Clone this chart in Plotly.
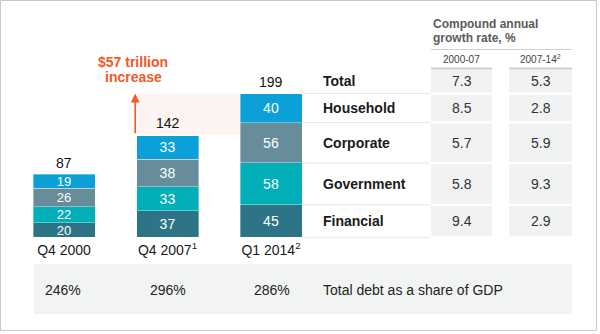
import plotly.graph_objects as go

# ---------------- data ----------------
categories = ["Q4 2000", "Q4 2007", "Q1 2014"]
category_labels = ["Q4 2000", "Q4 2007<sup>1</sup>", "Q1 2014<sup>2</sup>"]
financial = [20, 37, 45]
government = [22, 33, 58]
corporate = [26, 38, 56]
household = [19, 33, 40]
totals = [87, 142, 199]
gdp_share = [246, 296, 286]
increase_label = ["$57 trillion", "increase"]
table_rows = ["Total", "Household", "Corporate", "Government", "Financial"]
cagr_2000_07 = [7.3, 8.5, 5.7, 5.8, 9.4]
cagr_2007_14 = [5.3, 2.8, 5.9, 9.3, 2.9]
col_headers = ["2000-07", "2007-14<sup>2</sup>"]
table_title = ["Compound annual", "growth rate, %"]
gdp_label = "Total debt as a share of GDP"

# ---------------- layout constants ----------------
W, H = 600, 334
BASE_PX = 237.3          # pixel row of value 0
PX_PER_UNIT = 0.722
YMIN = -(H - BASE_PX) / PX_PER_UNIT
YMAX = BASE_PX / PX_PER_UNIT
FIRST_CENTER = 64.0
SPACING = 103.5
BAR_W_PX = 62.0
XMIN = -FIRST_CENTER / SPACING
XMAX = XMIN + W / SPACING
BAR_W = BAR_W_PX / SPACING

FONT = "Liberation Sans, Arial, sans-serif"
ORANGE = "#f15a29"
C_FIN, C_GOV, C_CORP, C_HH = "#2d7487", "#00afb8", "#678d9b", "#0ba0d8"


def px(x):
    return x / W


def py(y):
    return 1 - y / H


fig = go.Figure()

series = [("Financial", financial, C_FIN), ("Government", government, C_GOV),
          ("Corporate", corporate, C_CORP), ("Household", household, C_HH)]
for name, vals, col in series:
    fig.add_trace(go.Bar(
        x=categories, y=vals, name=name, width=BAR_W,
        marker=dict(color=col, line=dict(color="rgba(255,255,255,0.6)", width=0.6)),
        text=vals, textposition="inside", insidetextanchor="middle",
        textangle=0, constraintext="none",
        textfont=dict(color="white", size=[13, 14, 14], family=FONT),
        hoverinfo="skip",
    ))

shapes = []
annotations = []

# light shaded increase area between bar 2 top and bar 3 top
shapes.append(dict(type="rect", xref="x", yref="y",
                   x0=1 - BAR_W / 2, x1=2 - BAR_W / 2, y0=totals[1], y1=totals[2],
                   fillcolor="#fdf3f0", line=dict(width=0), layer="below"))

# arrow
arrow_x = 1 - BAR_W / 2 - 1.3 / SPACING
annotations.append(dict(x=arrow_x, y=totals[2], ax=arrow_x, ay=totals[1],
                        xref="x", yref="y", axref="x", ayref="y", text="",
                        showarrow=True, arrowhead=2, arrowsize=1.1, arrowwidth=1.6,
                        arrowcolor=ORANGE))
for line_txt, yy in zip(increase_label, (61.5, 76.5)):
    annotations.append(dict(x=px(133), y=py(yy), xref="paper", yref="paper",
                            xanchor="center", yanchor="middle",
                            text="<b>%s</b>" % line_txt, showarrow=False,
                            font=dict(family=FONT, size=14, color=ORANGE)))

# totals above bars
for c, t in zip(categories, totals):
    annotations.append(dict(x=c, y=t, xref="x", yref="y", text=str(t),
                            showarrow=False, xanchor="center", yanchor="middle",
                            yshift=11.5,
                            font=dict(family=FONT, size=14, color="#111")))

# ---------------- table ----------------
last = [financial[2], government[2], corporate[2], household[2]]
cum = [0]
for v in last:
    cum.append(cum[-1] + v)
total_top = (BASE_PX - 68.5) / PX_PER_UNIT
spans = [(cum[4], total_top), (cum[3], cum[4]), (cum[2], cum[3]),
         (cum[1], cum[2]), (cum[0], cum[1])]

col_x = [(431, 492), (509, 572)]
gap = 1.0 / PX_PER_UNIT
for (lo, hi) in spans:
    for (x0, x1) in col_x:
        shapes.append(dict(type="rect", xref="paper", yref="y",
                           x0=px(x0), x1=px(x1), y0=lo + gap, y1=hi - gap,
                           fillcolor="#f1f2f2", line=dict(width=0), layer="below"))
# separator lines in label area
for v in cum:
    shapes.append(dict(type="line", xref="paper", yref="y",
                       x0=px(302), x1=px(430), y0=v, y1=v,
                       line=dict(color="#e6e6e6", width=1), layer="below"))
# gray tops of the value columns
for (x0, x1) in col_x:
    shapes.append(dict(type="rect", xref="paper", yref="paper",
                       x0=px(x0), x1=px(x1), y0=py(69.5), y1=py(67.5),
                       fillcolor="#cfcfcf", line=dict(width=0), layer="below"))
# header rule
shapes.append(dict(type="line", xref="paper", yref="paper",
                   x0=px(431), x1=px(572), y0=py(49.5), y1=py(49.5),
                   line=dict(color="#d0d0d0", width=1), layer="below"))

for label, a, b, (lo, hi) in zip(table_rows, cagr_2000_07, cagr_2007_14, spans):
    ym = (lo + hi) / 2
    annotations.append(dict(x=px(321), y=ym, xref="paper", yref="y",
                            xanchor="left", yanchor="middle",
                            text="<b>%s</b>" % label, showarrow=False,
                            font=dict(family=FONT, size=14, color="#1a1a1a")))
    for val, (x0, x1) in zip((a, b), col_x):
        annotations.append(dict(x=px((x0 + x1) / 2), y=ym, xref="paper", yref="y",
                                xanchor="center", yanchor="middle",
                                text="%.1f" % val, showarrow=False,
                                font=dict(family=FONT, size=14, color="#333")))

for line_txt, yy in zip(table_title, (24, 38)):
    annotations.append(dict(x=px(431), y=py(yy), xref="paper", yref="paper",
                            xanchor="left", yanchor="middle",
                            text="<b>%s</b>" % line_txt, showarrow=False,
                            font=dict(family=FONT, size=12, color="#5a5a5a")))
for h, (x0, x1) in zip(col_headers, col_x):
    annotations.append(dict(x=px((x0 + x1) / 2), y=py(59), xref="paper", yref="paper",
                            xanchor="center", yanchor="middle",
                            text=h, showarrow=False,
                            font=dict(family=FONT, size=10, color="#444")))

# ---------------- bottom GDP band ----------------
shapes.append(dict(type="rect", xref="paper", yref="paper",
                   x0=px(34), x1=px(572), y0=py(314), y1=py(264),
                   fillcolor="#f2f3f3", line=dict(width=0), layer="below"))
for g, xl in zip(gdp_share, [42.5, 147.5, 252]):
    annotations.append(dict(x=px(xl), y=py(290), xref="paper", yref="paper",
                            xanchor="left", yanchor="middle",
                            text="%d%%" % g, showarrow=False,
                            font=dict(family=FONT, size=14, color="#222")))
annotations.append(dict(x=px(321), y=py(290), xref="paper", yref="paper",
                        xanchor="left", yanchor="middle", text=gdp_label,
                        showarrow=False,
                        font=dict(family=FONT, size=14, color="#222")))

# outer frame
shapes.append(dict(type="rect", xref="paper", yref="paper",
                   x0=px(0.5), x1=px(596.5), y0=py(330.5), y1=py(0.5),
                   line=dict(color="#c8c8c8", width=1), fillcolor="rgba(0,0,0,0)"))

fig.update_layout(
    width=W, height=H, margin=dict(l=0, r=0, t=0, b=0),
    paper_bgcolor="white", plot_bgcolor="rgba(0,0,0,0)",
    barmode="stack", showlegend=False,
    font=dict(family=FONT, color="#222"),
    xaxis=dict(type="category", range=[XMIN, XMAX], domain=[0, 1],
               anchor="free", position=1 - BASE_PX / H,
               tickvals=categories, ticktext=category_labels,
               tickfont=dict(family=FONT, size=14, color="#1a1a1a"),
               ticklabelstandoff=3,
               showgrid=False, zeroline=False, showline=False, ticks="",
               fixedrange=True),
    yaxis=dict(range=[YMIN, YMAX], domain=[0, 1], visible=False, fixedrange=True),
    shapes=shapes, annotations=annotations,
)

fig.write_html("out.html")
